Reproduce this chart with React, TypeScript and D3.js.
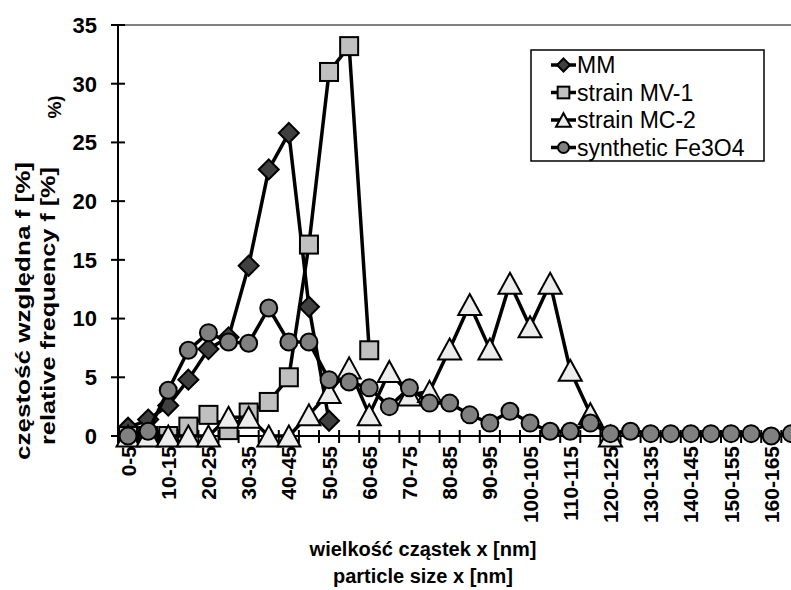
import * as d3 from "d3";

// particle size classes [nm]
const categories = [
  "0-5", "5-10", "10-15", "15-20", "20-25", "25-30", "30-35", "35-40", "40-45", "45-50",
  "50-55", "55-60", "60-65", "65-70", "70-75", "75-80", "80-85", "85-90", "90-95", "95-100",
  "100-105", "105-110", "110-115", "115-120", "120-125", "125-130", "130-135", "135-140",
  "140-145", "145-150", "150-155", "155-160", "160-165", "165-170",
];

// relative frequency [%]
const mm = [0.7, 1.4, 2.6, 4.8, 7.4, 8.4, 14.5, 22.7, 25.8, 11.0, 1.3];
const mv1 = [0, 0, 0, 0.8, 1.8, 0.5, 2.0, 2.9, 5.0, 16.3, 31.0, 33.2, 7.3];
const mc2 = [0, 0, 0, 0, 0, 1.6, 1.6, 0, 0, 1.8, 3.7, 5.8, 1.8, 5.5, 3.5, 3.8, 7.4, 11.2, 7.4, 13.0, 9.3, 13.0, 5.6, 1.9, 0];
const fe3o4 = [0, 0.4, 3.9, 7.3, 8.8, 8.0, 7.9, 10.9, 8.0, 8.0, 4.8, 4.6, 4.1, 2.5, 4.1, 2.8, 2.8, 1.8, 1.1, 2.1, 1.1, 0.4, 0.4, 1.1, 0.2, 0.4, 0.2, 0.2, 0.2, 0.2, 0.2, 0.2, 0, 0.2];

const yTicks = [0, 5, 10, 15, 20, 25, 30, 35];

const series = [
  { name: "MM", values: mm, shape: "diamond", fill: "#404040" },
  { name: "strain MV-1", values: mv1, shape: "square", fill: "#c0c0c0" },
  { name: "strain MC-2", values: mc2, shape: "triangle", fill: "#ededed" },
  { name: "synthetic Fe3O4", values: fe3o4, shape: "circle", fill: "#808080" },
];

const W = 791, H = 590;
const left = 118, top = 25, bottom = 436, right = 801.4;
const font = "Arial, 'Liberation Sans', sans-serif";

function Marker({ shape, cx, cy, fill, s = 1 }: any) {
  const st = { fill, stroke: "#000", strokeWidth: 2 };
  if (shape === "diamond") {
    const r = 10 * s;
    return <polygon points={`${cx},${cy - r} ${cx + r},${cy} ${cx},${cy + r} ${cx - r},${cy}`} {...st} />;
  }
  if (shape === "square") {
    const h = 9 * s;
    return <rect x={cx - h} y={cy - h} width={2 * h} height={2 * h} {...st} />;
  }
  if (shape === "triangle") {
    const hw = 11.5 * s, hh = 10.5 * s;
    return <polygon points={`${cx},${cy - hh} ${cx + hw},${cy + hh} ${cx - hw},${cy + hh}`} {...st} />;
  }
  return <circle cx={cx} cy={cy} r={8.5 * s} {...st} />;
}

export default function App() {
  const x = d3.scaleBand().domain(categories).range([left, right]);
  const cx = (i: number) => (x(categories[i]) as number) + x.bandwidth() / 2;
  const y = d3.scaleLinear().domain([0, 35]).range([bottom, top]);
  const line = d3.line<number>().x((_, i) => cx(i)).y((d) => y(d));
  const bounds = d3.range(categories.length + 1).map((i) => left + i * x.bandwidth());

  return (
    <svg width={W} height={H} style={{ position: "absolute", left: 0, top: 0, background: "#fff" }} fontFamily={font}>
      <rect width={W} height={H} fill="#fff" />
      {/* top border */}
      <line x1={left} x2={W} y1={y(35)} y2={y(35)} stroke="#808080" strokeWidth={2} />

      {/* y axis */}
      <line x1={left} x2={left} y1={y(35)} y2={y(0)} stroke="#000" strokeWidth={2} />
      {yTicks.map((t) => (
        <g key={t}>
          <line x1={left - 7} x2={left + 7} y1={y(t)} y2={y(t)} stroke="#000" strokeWidth={2} />
          <text x={97} y={y(t)} dy="0.36em" textAnchor="end" fontSize={22} fontWeight="bold">{t}</text>
        </g>
      ))}

      {/* x axis */}
      <line x1={left} x2={W} y1={y(0)} y2={y(0)} stroke="#000" strokeWidth={2} />
      {bounds.map((b, i) => (
        <line key={i} x1={b} x2={b} y1={y(0) - 6} y2={y(0) + 7} stroke="#000" strokeWidth={2} />
      ))}
      {categories.map((c, i) =>
        i % 2 === 0 ? (
          <text key={c} transform={`translate(${cx(i)},446) rotate(-90)`} dy="0.36em" textAnchor="end" fontSize={21} fontWeight="bold">{c}</text>
        ) : null
      )}

      {/* series */}
      {series.map((s) => (
        <g key={s.name}>
          <path d={line(s.values) as string} fill="none" stroke="#000" strokeWidth={3.5} strokeLinejoin="round" />
          {s.values.map((v, i) => (
            <Marker key={i} shape={s.shape} cx={cx(i)} cy={y(v)} fill={s.fill} />
          ))}
        </g>
      ))}

      {/* legend */}
      <rect x={531} y={50} width={233} height={111} fill="#fff" stroke="#000" strokeWidth={1.5} />
      {series.map((s, i) => {
        const ly = 65 + i * 27.5;
        return (
          <g key={s.name}>
            <line x1={551} x2={576} y1={ly} y2={ly} stroke="#000" strokeWidth={3.5} />
            <Marker shape={s.shape} cx={563.5} cy={ly} fill={s.fill} s={0.65} />
            <text x={577} y={ly} dy="0.36em" fontSize={23}>{s.name}</text>
          </g>
        );
      })}

      {/* y title */}
      <text transform="translate(54,107) rotate(-90)" dy="0.36em" textAnchor="middle" fontSize={19} fontWeight="bold">%)</text>
      <g fontSize={20} fontWeight="bold" textAnchor="middle">
        <text transform="translate(23,311) rotate(-90)" dy="0.36em" textLength={298} lengthAdjust="spacingAndGlyphs">częstość względna f [%]</text>
        <text transform="translate(48,306) rotate(-90)" dy="0.36em" textLength={278} lengthAdjust="spacingAndGlyphs">relative frequency f [%]</text>
      </g>

      {/* x title */}
      <g fontSize={20} fontWeight="bold" textAnchor="middle">
        <text x={423} y={556}>wielkość cząstek x [nm]</text>
        <text x={423} y={583}>particle size x [nm]</text>
      </g>
    </svg>
  );
}
